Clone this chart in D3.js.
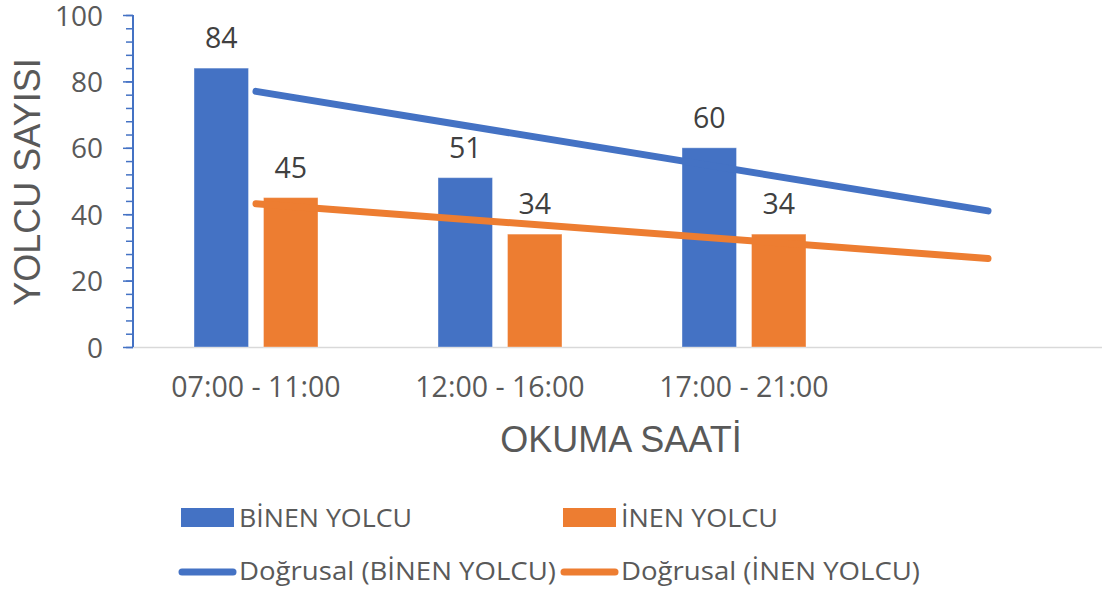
<!DOCTYPE html>
<html>
<head>
<meta charset="utf-8">
<script src="https://cdn.jsdelivr.net/npm/d3@7"></script>
<style>
  html, body { margin: 0; padding: 0; background: #fff; }
  svg { display: block; }
</style>
</head>
<body>
<svg id="chart" width="1102" height="592"></svg>
<script>
// Reading periods (fourth slot kept empty so the trendlines extend one period forward)
const periods = ["07:00 - 11:00", "12:00 - 16:00", "17:00 - 21:00"];
const forecastSlot = [""];
const boarding = [84, 51, 60];   // BİNEN YOLCU
const alighting = [45, 34, 34];  // İNEN YOLCU
const seriesNames = ["BİNEN YOLCU", "İNEN YOLCU"];
const trendNames = ["Doğrusal (BİNEN YOLCU)", "Doğrusal (İNEN YOLCU)"];
const yTicks = [0, 20, 40, 60, 80, 100];
const yTitle = "YOLCU SAYISI";
const xTitle = "OKUMA SAATİ";

const colors = ["#4472C4", "#ED7D31"];
const svg = d3.select("#chart");
const labelFont = "'Open Sans', sans-serif";

const slots = periods.concat(forecastSlot);
const x0 = d3.scaleBand().domain(slots).range([134, 1110])
  .paddingInner(0.492).paddingOuter(0.246);
const x1 = d3.scaleBand().domain(seriesNames).range([0, x0.bandwidth()])
  .paddingInner(0.216);
const y = d3.scaleLinear().domain([0, 100]).range([347, 15]);

const rows = periods.map((p, i) => ({ period: p, values: [boarding[i], alighting[i]] }));

// horizontal category axis line
svg.append("line")
  .attr("x1", 133).attr("x2", 1102)
  .attr("y1", y(0) + 0.5).attr("y2", y(0) + 0.5)
  .attr("stroke", "#d9d9d9").attr("stroke-width", 1.5);

// bars
const groups = svg.append("g").selectAll("g").data(rows).join("g")
  .attr("transform", d => `translate(${x0(d.period)},0)`);
groups.selectAll("rect")
  .data(d => d.values.map((v, k) => ({ v, k })))
  .join("rect")
  .attr("x", d => x1(seriesNames[d.k]))
  .attr("width", x1.bandwidth())
  .attr("y", d => y(d.v))
  .attr("height", d => y(0) - y(d.v))
  .attr("fill", d => colors[d.k])
  .attr("stroke", "#fff").attr("stroke-opacity", 0.35).attr("stroke-width", 1);

// data labels
groups.selectAll("text")
  .data(d => d.values.map((v, k) => ({ v, k })))
  .join("text")
  .attr("x", d => x1(seriesNames[d.k]) + x1.bandwidth() / 2)
  .attr("y", d => y(d.v) - 20)
  .attr("text-anchor", "middle")
  .attr("font-family", labelFont)
  .attr("font-size", 28.5)
  .attr("fill", "#404040")
  .text(d => d.v);

// linear least-squares trendlines spanning all four slots
function fit(vals) {
  const xs = vals.map((_, i) => i + 1);
  const mx = d3.mean(xs), my = d3.mean(vals);
  const slope = d3.sum(xs, (xv, i) => (xv - mx) * (vals[i] - my)) / d3.sum(xs, xv => (xv - mx) ** 2);
  return xv => my + slope * (xv - mx);
}
const center = s => x0(s) + x0.bandwidth() / 2;
[boarding, alighting].forEach((vals, k) => {
  const f = fit(vals);
  const pts = slots.map((s, i) => [center(s), y(f(i + 1))]);
  svg.append("path")
    .attr("d", d3.line()([pts[0], pts[pts.length - 1]]))
    .attr("fill", "none")
    .attr("stroke", colors[k])
    .attr("stroke-width", 7)
    .attr("stroke-linecap", "round");
});

// value axis with minor ticks
const yAxis = svg.append("g").attr("transform", "translate(133,0)");
yAxis.append("g")
  .call(d3.axisLeft(y).tickValues(d3.range(0, 101, 4)).tickSize(7).tickFormat(""))
  .call(g => g.select(".domain").remove())
  .selectAll("line").attr("stroke", "#4472C4").attr("stroke-width", 1.5);
yAxis.append("g")
  .call(d3.axisLeft(y).tickValues(yTicks).tickSize(10).tickPadding(20))
  .call(g => g.select(".domain").attr("stroke", "#4472C4").attr("stroke-width", 2)
    .attr("d", `M0,${y(0)}V${y(100)}`))
  .call(g => g.selectAll("line").attr("stroke", "#4472C4").attr("stroke-width", 1.5))
  .call(g => g.selectAll("text")
    .attr("font-family", labelFont)
    .attr("font-size", 28).attr("fill", "#595959").attr("dy", "0.36em"));

// category tick labels
svg.append("g").selectAll("text").data(periods).join("text")
  .attr("x", d => center(d))
  .attr("y", 397)
  .attr("text-anchor", "middle")
  .attr("font-family", labelFont)
  .attr("font-size", 28.5)
  .attr("fill", "#595959")
  .text(d => d);

// axis titles
svg.append("text")
  .attr("transform", "translate(40,182) rotate(-90)")
  .attr("text-anchor", "middle")
  .attr("font-family", "'Liberation Sans', Arial, sans-serif")
  .attr("font-size", 36)
  .attr("fill", "#595959")
  .text(yTitle);
svg.append("text")
  .attr("x", 621).attr("y", 452)
  .attr("text-anchor", "middle")
  .attr("font-family", "'Liberation Sans', Arial, sans-serif")
  .attr("font-size", 36)
  .attr("fill", "#595959")
  .text(xTitle);

// legend
const legendCols = [181, 563];
const textWidths = [[173, 157], [317, 299]];
seriesNames.forEach((name, k) => {
  const lx = legendCols[k];
  svg.append("rect").attr("x", lx).attr("y", 508).attr("width", 53).attr("height", 19)
    .attr("fill", colors[k]);
  svg.append("text").attr("x", lx + 58).attr("y", 527)
    .attr("font-family", labelFont).attr("font-size", 26).attr("fill", "#595959")
    .attr("textLength", textWidths[0][k]).attr("lengthAdjust", "spacingAndGlyphs")
    .text(name);
  svg.append("line").attr("x1", lx + 1).attr("x2", lx + 52).attr("y1", 572).attr("y2", 572)
    .attr("stroke", colors[k]).attr("stroke-width", 7).attr("stroke-linecap", "round");
  svg.append("text").attr("x", lx + 58).attr("y", 580)
    .attr("font-family", labelFont).attr("font-size", 26).attr("fill", "#595959")
    .attr("textLength", textWidths[1][k]).attr("lengthAdjust", "spacingAndGlyphs")
    .text(trendNames[k]);
});
</script>
</body>
</html>
